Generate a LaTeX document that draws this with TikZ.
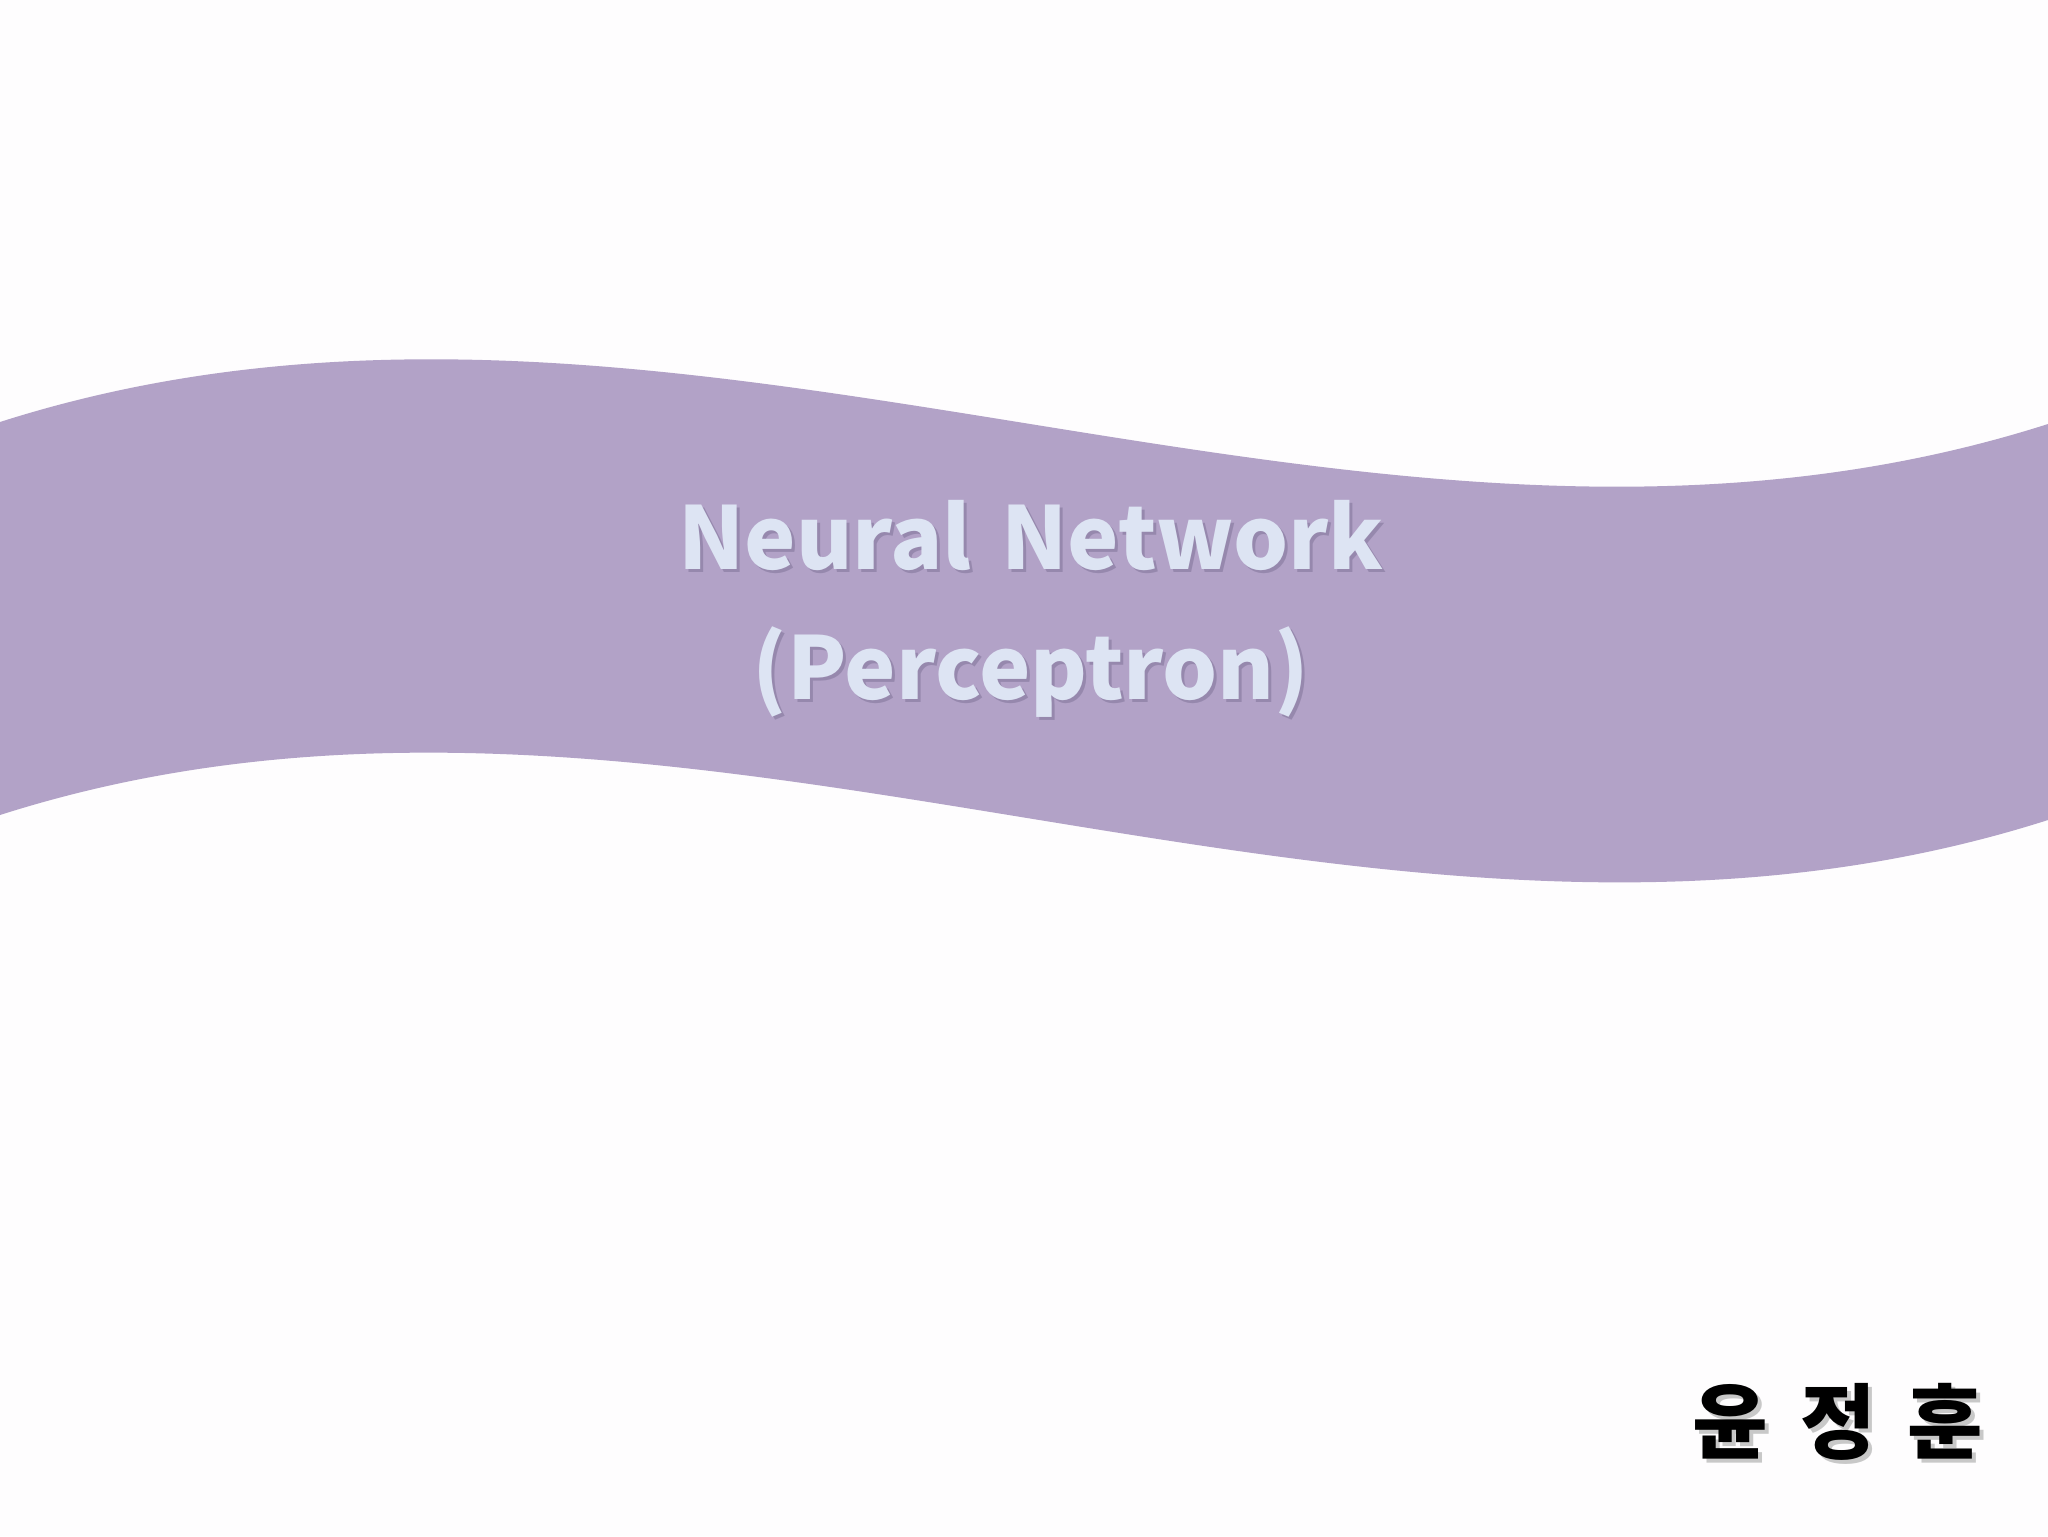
\documentclass[tikz,border=0pt]{standalone}
\usepackage{fontspec}
\newfontfamily\krfont{Noto Sans CJK KR}
\definecolor{bandpurple}{HTML}{B2A2C7}
\definecolor{titlefill}{HTML}{DDE4F3}
\definecolor{titleshadow}{HTML}{6E6388}
\definecolor{nameshadow}{HTML}{C8C8C8}
\definecolor{pagebg}{HTML}{FEFDFE}
\tikzset{
  titletext/.style={anchor=base, inner sep=0pt, text=titlefill, font=\krfont\bfseries\fontsize{43.3}{50}\selectfont},
  titleshade/.style={anchor=base, inner sep=0pt, text=titleshadow, opacity=0.4, font=\krfont\bfseries\fontsize{43.3}{50}\selectfont},
  nametext/.style={anchor=base, inner sep=0pt, text=black, font=\krfont\bfseries\fontsize{41}{46}\selectfont},
  nameshade/.style={anchor=base, inner sep=0pt, text=nameshadow, font=\krfont\bfseries\fontsize{41}{46}\selectfont}
}
\newcommand{\titleone}{Neural\hspace{0.12em} Network}
\newcommand{\titletwo}{(Perceptron)}
\newcommand{\authorname}{윤\hspace{16pt}정\hspace{16pt}훈}
\begin{document}
\begin{tikzpicture}[x=0.5pt,y=-0.5pt]
\useasboundingbox (0,0) rectangle (2048,1536);
\fill[pagebg] (0,0) rectangle (2048,1536);
% wavy band
\fill[bandpurple] (0,422) .. controls (683,204) and (1365,642) .. (2048,424)
  -- (2048,820) .. controls (1365,1038) and (683,597) .. (0,815) -- cycle;
% title shadows
\node[titleshade] (title1s) at (1034,572) {\titleone};
\node[titleshade] (title2s) at (1034,702) {\titletwo};
% title
\node[titletext] (title1) at (1031,569) {\titleone};
\node[titletext] (title2) at (1031,699) {\titletwo};
% author
\node[nameshade] (authors) at (1842,1456) {\authorname};
\node[nametext] (author) at (1838,1452) {\authorname};
\end{tikzpicture}
\end{document}
